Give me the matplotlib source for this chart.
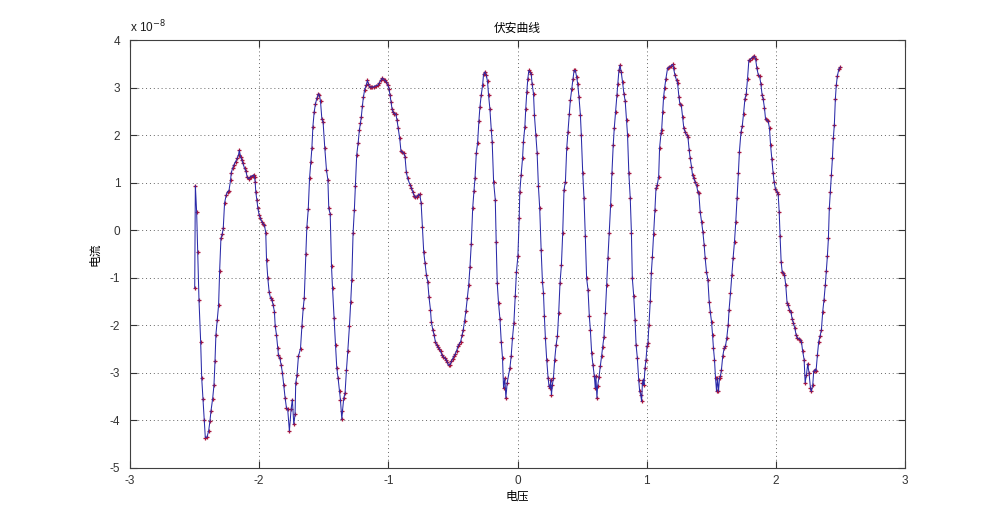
import matplotlib
matplotlib.use("Agg")
import matplotlib.pyplot as plt
import numpy as np

# Voltage (V) and current (x 1e-8 A), left to right
volt_a = [-2.499, -2.494, -2.484, -2.476, -2.466, -2.453, -2.445, -2.435, -2.425, -2.417,
          -2.404, -2.391, -2.381, -2.373, -2.360, -2.350, -2.342, -2.335, -2.324, -2.314,
          -2.306, -2.296, -2.286, -2.278, -2.268, -2.255, -2.245, -2.234, -2.221, -2.216,
          -2.206, -2.196, -2.183, -2.170, -2.160, -2.154, -2.144, -2.134, -2.126, -2.113,
          -2.103, -2.093, -2.082, -2.072, -2.062, -2.051, -2.041, -2.036, -2.031, -2.026,
          -2.018, -2.010, -2.000, -1.990, -1.979, -1.969, -1.959, -1.949, -1.943, -1.933,
          -1.923, -1.912, -1.902, -1.892, -1.882, -1.876, -1.866, -1.856, -1.851, -1.840,
          -1.830, -1.820, -1.810, -1.799, -1.789, -1.779, -1.766, -1.753, -1.743, -1.732,
          -1.722, -1.717, -1.707, -1.696]
curr_a = [-1.22, 0.94, 0.38, -0.46, -1.46, -2.34, -3.10, -3.54, -4.00, -4.36,
          -4.35, -4.22, -4.01, -3.80, -3.54, -3.26, -2.76, -2.20, -1.88, -1.57,
          -0.85, -0.17, -0.08, 0.04, 0.57, 0.74, 0.81, 0.83, 1.06, 1.21,
          1.30, 1.37, 1.44, 1.51, 1.58, 1.68, 1.55, 1.48, 1.41, 1.30,
          1.25, 1.12, 1.08, 1.11, 1.13, 1.15, 1.16, 1.11, 1.02, 0.80,
          0.64, 0.46, 0.32, 0.25, 0.18, 0.13, 0.11, -0.06, -0.62, -1.01,
          -1.29, -1.43, -1.46, -1.57, -1.71, -2.01, -2.20, -2.48, -2.62, -2.69,
          -2.83, -3.00, -3.25, -3.53, -3.73, -3.77, -4.22, -3.77, -3.56, -4.08,
          -3.87, -3.21, -3.04, -2.65]

volt_b = [-1.680, -1.669, -1.659, -1.651, -1.638, -1.631, -1.620, -1.610, -1.600, -1.592,
          -1.584, -1.574, -1.564, -1.553, -1.541, -1.533, -1.525, -1.515, -1.505, -1.492,
          -1.479, -1.468, -1.461, -1.450, -1.440, -1.432, -1.420, -1.409, -1.399, -1.389,
          -1.378, -1.371, -1.360, -1.355, -1.345, -1.335, -1.324, -1.314, -1.301, -1.291,
          -1.283, -1.273, -1.263, -1.255, -1.245, -1.234, -1.224, -1.216, -1.209, -1.201,
          -1.193, -1.183, -1.170, -1.162, -1.154, -1.144, -1.134, -1.124, -1.111, -1.098,
          -1.082, -1.072, -1.059, -1.046, -1.036, -1.026, -1.015, -1.005, -0.995, -0.987,
          -0.979, -0.972, -0.964, -0.954, -0.943, -0.933, -0.923, -0.912, -0.902, -0.892,
          -0.882, -0.871, -0.861, -0.851]
curr_b = [-2.49, -2.01, -1.64, -1.43, -0.50, 0.06, 0.44, 1.09, 1.44, 1.72,
          2.18, 2.49, 2.66, 2.78, 2.87, 2.84, 2.71, 2.35, 2.27, 1.73,
          1.27, 1.06, 0.46, 0.34, -0.76, -1.22, -1.85, -2.41, -2.90, -3.11,
          -3.39, -3.56, -3.98, -3.80, -3.53, -3.42, -2.93, -2.55, -2.01, -1.50,
          -1.04, -0.06, 0.43, 0.92, 1.58, 1.83, 2.11, 2.25, 2.39, 2.61,
          2.80, 2.96, 3.06, 3.15, 3.08, 3.01, 3.01, 3.01, 3.02, 3.04,
          3.05, 3.09, 3.15, 3.20, 3.17, 3.15, 3.12, 3.06, 2.98, 2.84,
          2.70, 2.56, 2.49, 2.45, 2.45, 2.32, 2.14, 1.93, 1.66, 1.65,
          1.62, 1.55, 1.23, 1.09]

volt_c = [-0.831, -0.821, -0.811, -0.801, -0.790, -0.780, -0.770, -0.757, -0.746, -0.736,
          -0.726, -0.716, -0.705, -0.695, -0.685, -0.674, -0.667, -0.656, -0.646, -0.636,
          -0.625, -0.615, -0.605, -0.595, -0.584, -0.574, -0.564, -0.553, -0.543, -0.533,
          -0.523, -0.512, -0.502, -0.492, -0.481, -0.471, -0.461, -0.450, -0.440, -0.430,
          -0.420, -0.409, -0.399, -0.389, -0.378, -0.368, -0.358, -0.347, -0.337, -0.329,
          -0.319, -0.309, -0.299, -0.291, -0.281, -0.270, -0.263, -0.252, -0.242, -0.232,
          -0.224, -0.214, -0.203, -0.196, -0.185, -0.172, -0.165, -0.157, -0.147, -0.136,
          -0.126, -0.116, -0.108, -0.098, -0.090, -0.080, -0.059, -0.049, -0.039, -0.028,
          -0.018, -0.008, 0.003, 0.013]
curr_c = [0.95, 0.89, 0.81, 0.73, 0.69, 0.70, 0.74, 0.76, 0.57, 0.06,
          -0.46, -0.69, -0.94, -1.08, -1.41, -1.67, -1.93, -2.09, -2.20, -2.34,
          -2.41, -2.46, -2.49, -2.55, -2.63, -2.66, -2.69, -2.72, -2.78, -2.84,
          -2.83, -2.76, -2.70, -2.65, -2.60, -2.53, -2.44, -2.39, -2.34, -2.21,
          -2.09, -1.90, -1.69, -1.43, -1.16, -0.77, -0.29, 0.46, 0.83, 1.09,
          1.62, 1.83, 2.29, 2.59, 2.84, 3.05, 3.28, 3.33, 3.26, 3.13,
          2.84, 2.56, 2.11, 1.86, 1.02, 0.64, -0.24, -1.11, -1.53, -1.86,
          -2.34, -2.69, -3.32, -3.11, -3.53, -3.21, -2.90, -2.65, -2.27, -1.95,
          -1.39, -0.87, -0.55, 0.25]

volt_d = [0.018, 0.028, 0.039, 0.046, 0.057, 0.064, 0.072, 0.080, 0.088, 0.095,
          0.106, 0.113, 0.124, 0.131, 0.142, 0.152, 0.162, 0.172, 0.183, 0.193,
          0.201, 0.208, 0.216, 0.226, 0.237, 0.244, 0.252, 0.257, 0.263, 0.270,
          0.278, 0.288, 0.299, 0.309, 0.319, 0.329, 0.340, 0.350, 0.360, 0.371,
          0.381, 0.391, 0.402, 0.409, 0.420, 0.430, 0.438, 0.448, 0.458, 0.466,
          0.476, 0.487, 0.494, 0.505, 0.515, 0.525, 0.535, 0.546, 0.556, 0.564,
          0.574, 0.584, 0.595, 0.602, 0.607, 0.615, 0.620, 0.631, 0.641, 0.651,
          0.659, 0.669, 0.680, 0.690, 0.700, 0.710, 0.721, 0.731, 0.741, 0.749,
          0.759, 0.770, 0.777, 0.785, 0.793, 0.803, 0.813, 0.824, 0.834, 0.844,
          0.852, 0.862, 0.873]
curr_d = [0.81, 1.16, 1.51, 1.86, 2.18, 2.56, 2.91, 3.19, 3.36, 3.33,
          3.29, 3.08, 2.87, 2.42, 2.00, 1.62, 0.92, 0.46, -0.41, -1.08,
          -1.32, -1.81, -2.27, -2.72, -3.11, -3.28, -3.32, -3.14, -3.46, -3.25,
          -3.11, -2.72, -2.41, -2.23, -1.74, -1.11, -0.73, -0.06, 0.85, 1.02,
          1.72, 2.07, 2.45, 2.73, 2.98, 3.19, 3.36, 3.36, 3.22, 3.08,
          2.80, 2.42, 2.00, 1.20, 0.67, -0.13, -1.01, -1.25, -1.81, -2.09,
          -2.58, -2.83, -3.07, -3.32, -3.07, -3.53, -3.28, -3.09, -2.86, -2.65,
          -2.46, -2.25, -1.74, -1.15, -0.59, -0.06, 0.53, 1.20, 1.79, 2.14,
          2.49, 2.85, 3.08, 3.36, 3.47, 3.33, 3.12, 2.87, 2.71, 2.32,
          2.00, 1.20, 0.67]

volt_e = [0.882, 0.889, 0.900, 0.910, 0.918, 0.928, 0.938, 0.946, 0.954, 0.961,
          0.967, 0.974, 0.979, 0.987, 0.995, 1.003, 1.010, 1.018, 1.028, 1.036,
          1.044, 1.054, 1.064, 1.072, 1.082, 1.093, 1.100, 1.111, 1.116, 1.124,
          1.131, 1.139, 1.149, 1.162, 1.175, 1.188, 1.201, 1.208, 1.219, 1.232,
          1.239, 1.250, 1.257, 1.268, 1.278, 1.288, 1.299, 1.309, 1.319, 1.329,
          1.337, 1.347, 1.355, 1.365, 1.376, 1.386, 1.396, 1.404, 1.414, 1.425,
          1.435, 1.445, 1.453, 1.463, 1.474, 1.484, 1.492, 1.502, 1.510, 1.517,
          1.525, 1.533, 1.541, 1.548, 1.556, 1.564, 1.571, 1.579, 1.589, 1.600,
          1.610, 1.620, 1.631, 1.638, 1.649, 1.659, 1.669, 1.680, 1.690, 1.700,
          1.710, 1.718]
curr_e = [-0.06, -1.01, -1.39, -1.88, -2.41, -2.69, -3.14, -3.39, -3.46, -3.60,
          -3.21, -3.14, -3.25, -2.90, -2.72, -2.44, -2.37, -1.99, -1.48, -0.90,
          -0.57, -0.08, 0.43, 0.88, 0.95, 1.13, 1.73, 2.04, 2.11, 2.49,
          2.80, 2.99, 3.19, 3.41, 3.43, 3.46, 3.49, 3.41, 3.26, 3.15,
          3.10, 2.80, 2.66, 2.63, 2.39, 2.14, 2.06, 2.00, 1.97, 1.69,
          1.51, 1.34, 1.16, 1.09, 1.01, 0.95, 0.81, 0.78, 0.39, 0.18,
          -0.03, -0.31, -0.59, -0.87, -1.04, -1.50, -1.71, -1.92, -2.20, -2.48,
          -2.72, -3.11, -3.39, -3.11, -3.39, -3.11, -3.07, -2.93, -2.65, -2.48,
          -2.44, -2.27, -1.99, -1.67, -1.32, -0.94, -0.59, -0.24, 0.18, 0.67,
          1.20, 1.65]

volt_f = [1.730, 1.740, 1.750, 1.761, 1.771, 1.781, 1.791, 1.802, 1.812, 1.822,
          1.833, 1.843, 1.853, 1.864, 1.874, 1.884, 1.894, 1.902, 1.912, 1.920,
          1.930, 1.941, 1.951, 1.959, 1.969, 1.979, 1.987, 1.997, 2.008, 2.018,
          2.026, 2.033, 2.041, 2.049, 2.059, 2.067, 2.077, 2.087, 2.095, 2.105,
          2.116, 2.126, 2.136, 2.147, 2.157, 2.167, 2.178, 2.188, 2.198, 2.208,
          2.219, 2.227, 2.237, 2.247, 2.257, 2.268, 2.275, 2.286, 2.293, 2.304,
          2.311, 2.322, 2.332, 2.342, 2.353, 2.363, 2.373, 2.383, 2.391, 2.399,
          2.407, 2.414, 2.422, 2.430, 2.438, 2.445, 2.453, 2.461, 2.468, 2.476,
          2.489, 2.499]
curr_f = [2.06, 2.19, 2.45, 2.77, 2.87, 3.19, 3.57, 3.59, 3.62, 3.64,
          3.66, 3.61, 3.41, 3.27, 3.24, 3.08, 2.84, 2.76, 2.57, 2.35,
          2.31, 2.29, 2.14, 1.80, 1.50, 1.20, 1.01, 0.87, 0.81, 0.76,
          0.39, -0.13, -0.66, -0.87, -0.90, -0.94, -1.16, -1.53, -1.57, -1.67,
          -1.71, -1.86, -1.95, -2.06, -2.20, -2.27, -2.28, -2.30, -2.34, -2.55,
          -2.72, -3.21, -3.04, -2.81, -3.00, -3.32, -3.39, -3.25, -2.97, -2.93,
          -2.97, -2.62, -2.34, -2.23, -2.09, -1.71, -1.46, -1.15, -0.85, -0.55,
          -0.17, 0.46, 0.81, 1.16, 1.51, 1.93, 2.22, 2.77, 3.05, 3.24,
          3.40, 3.43]

x_ticks = [-3, -2, -1, 0, 1, 2, 3]
y_ticks = [-5, -4, -3, -2, -1, 0, 1, 2, 3, 4]

title_text = "伏安曲线"
x_label = "电压"
y_label = "电流"

voltage = np.array(volt_a + volt_b + volt_c + volt_d + volt_e + volt_f)
current = np.array(curr_a + curr_b + curr_c + curr_d + curr_e + curr_f)

plt.rcParams['font.family'] = ['Liberation Sans', 'Noto Sans CJK SC', 'DejaVu Sans']

fig = plt.figure(figsize=(10, 5.27), dpi=100)
ax = fig.add_axes([0.13, 0.112, 0.775, 0.812])

ax.plot(voltage, current, linestyle='none', marker='+', markersize=3.5,
        markeredgewidth=0.9, color='#a8143c', zorder=3)
ax.plot(voltage, current, '-', color='#2a2aa8', linewidth=0.75, zorder=4)

ax.set_xlim(-3, 3)
ax.set_ylim(-5, 4)
ax.set_xticks(x_ticks)
ax.set_yticks(y_ticks)
ax.set_xticklabels([str(t) for t in x_ticks])
ax.set_yticklabels([str(t) for t in y_ticks])

ax.grid(True, linestyle=(0, (1, 3)), color='0.4', linewidth=0.7)
ax.set_axisbelow(True)
ax.tick_params(direction='in', length=5, width=0.8, colors='0.2',
               top=True, right=True, labelsize=8.5, pad=5)
ax.tick_params(axis='y', pad=7)
for s in ax.spines.values():
    s.set_color('0.25')
    s.set_linewidth(0.8)

cjk = ['Noto Sans CJK SC', 'DejaVu Sans']
ax.set_title(title_text, fontsize=8.5, family=cjk, pad=6)
ax.set_xlabel(x_label, fontsize=8.5, family=cjk, labelpad=2)
ax.set_ylabel(y_label, fontsize=8.5, family=cjk, labelpad=6)

ax.text(0.0, 1.012, r"x 10$^{-8}$", transform=ax.transAxes, fontsize=8.5,
        ha='left', va='bottom', color='0.1')

fig.savefig("out.png", dpi=100, facecolor='white')
